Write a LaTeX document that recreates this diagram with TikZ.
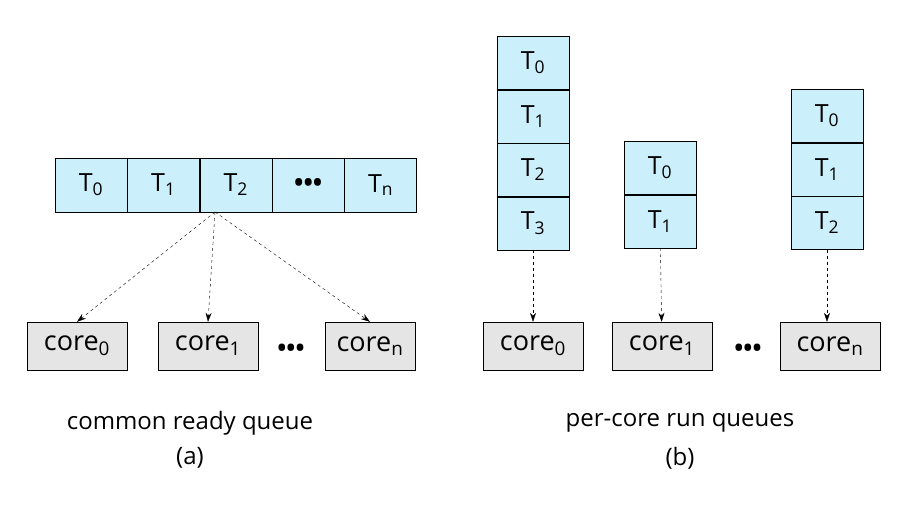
\documentclass[tikz,border=0pt]{standalone}
\usepackage{fontspec}
\setmainfont{Open Sans}
\usetikzlibrary{positioning,arrows.meta}
\tikzset{
  task/.style={draw=black,fill=cyan!20!white,minimum width=72pt,minimum height=53pt,inner sep=0pt,font=\fontsize{25}{28}\selectfont},
  core/.style={draw=black,fill=black!10,minimum width=100pt,minimum height=48pt,inner sep=0pt,font=\fontsize{27}{30}\selectfont},
  disp/.style={->,>={Stealth[length=9pt,width=6pt]},dashed,thin},
  lbl/.style={font=\fontsize{24}{28}\selectfont}
}
\newcommand{\Tk}[1]{T\textsubscript{#1}}
\newcommand{\Co}[1]{core\textsubscript{#1}}
\begin{document}
\begin{tikzpicture}[x=1pt,y=-1pt]
\useasboundingbox (0,0) rectangle (908,512);
% (a) common ready queue
\node[task,minimum height=54pt] (a0) at (91,185) {\Tk{0}};
\foreach \i/\t [remember=\i as \j (initially 0)] in {1/\Tk{1},2/\Tk{2},3/\textbf{\textbullet\textbullet\textbullet},4/\Tk{n}}
  \node[task,minimum height=54pt,right=0pt of a\j] (a\i) {\t};
\node[core] (ca0) at (77,346) {\Co{0}};
\node[core] (ca1) at (208,346) {\Co{1}};
\node[core,minimum width=90pt] (can) at (370,346) {\Co{n}};
\node[lbl] at (291,350) {\textbf{\textbullet\textbullet\textbullet}};
\coordinate (src) at (215,212);
\draw[disp] (src) -- (ca0.north);
\draw[disp] (src) -- (ca1.north);
\draw[disp] (src) -- (can.north);
\node[lbl] at (190,423) {common ready queue};
\node[lbl] at (190,458) {(a)};
% (b) per-core run queues
\node[task] (p0) at (533,63) {\Tk{0}};
\foreach \i [remember=\i as \j (initially 0)] in {1,2,3}
  \node[task,below=0pt of p\j] (p\i) {\Tk{\i}};
\node[task] (q0) at (660,168) {\Tk{0}};
\node[task,below=0pt of q0] (q1) {\Tk{1}};
\node[task] (r0) at (827,116) {\Tk{0}};
\foreach \i [remember=\i as \j (initially 0)] in {1,2}
  \node[task,below=0pt of r\j] (r\i) {\Tk{\i}};
\node[core] (cb0) at (533,346) {\Co{0}};
\node[core] (cb1) at (662,346) {\Co{1}};
\node[core] (cbn) at (830,346) {\Co{n}};
\node[lbl] at (748,350) {\textbf{\textbullet\textbullet\textbullet}};
\draw[disp] (p3) -- (cb0);
\draw[disp] (q1) -- (cb1);
\draw[disp] (r2) -- (r2|-cbn.north);
\node[lbl] at (680,423) {per-core run queues};
\node[lbl] at (680,458) {(b)};
\end{tikzpicture}
\end{document}
